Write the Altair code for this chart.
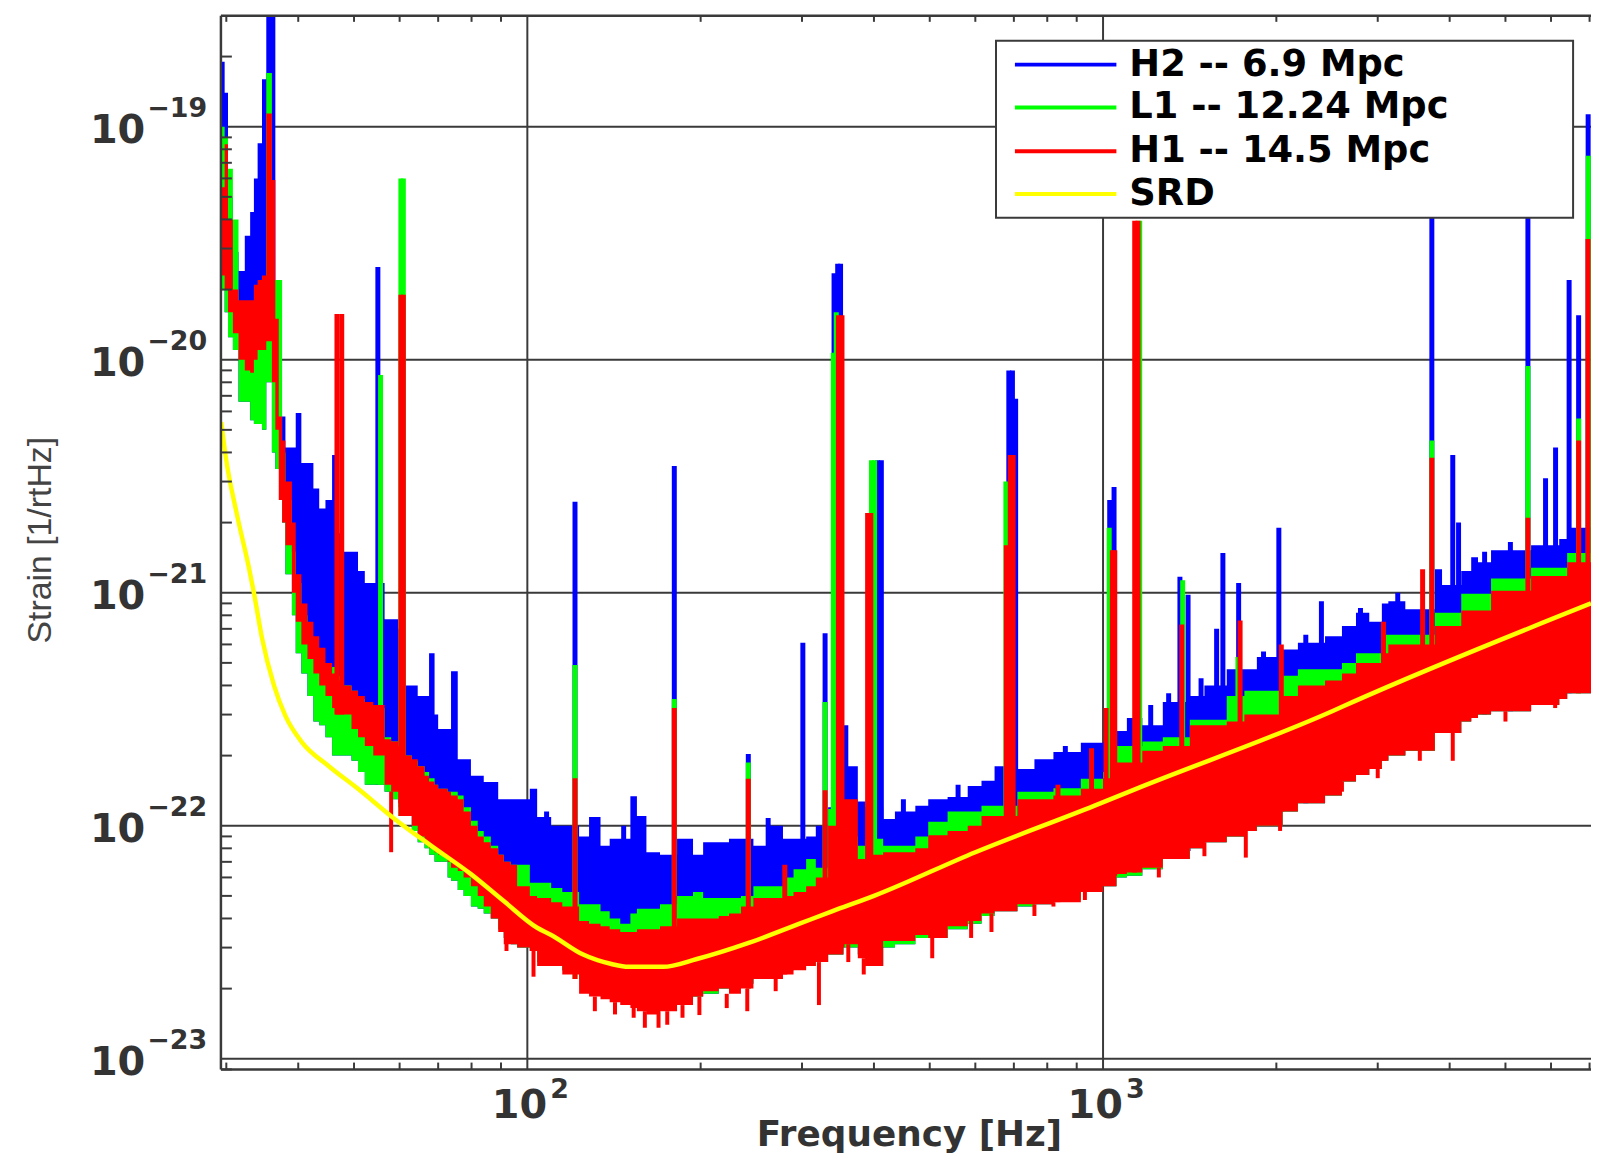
import altair as alt
import pandas as pd

# ---------------- data ----------------
FREQ = [29.36, 29.8, 30.2, 30.8, 31.5, 32.3, 33.0, 33.5, 34.0, 34.6, 35.2, 36.0, 36.5, 37.0, 37.5, 38.0,
        39.0, 39.6, 40.5, 41.5, 42.5, 43.5, 44.6, 45.8, 46.4, 48.0, 49.5, 50.8, 52.2, 54.0, 56.5, 58.0,
        59.7, 61.2, 63.0, 64.5, 66.3, 67.5, 69.0, 70.0, 72.7, 73.7, 75.7, 77.5, 79.8, 82.0, 84.0, 86.4,
        89.0, 91.0, 93.6, 96.0, 101.0, 104.0, 110.0, 115.0, 123.0, 128.0, 134.0, 139.0, 145.0, 151.0,
        155.0, 161.0, 170.0, 182.0, 194.0, 202.0, 215.0, 224.0, 235.0, 247.0, 263.0, 278.0, 290.0, 305.0,
        317.0, 333.0, 354.0, 361.0, 375.0, 387.0, 415.0, 435.0, 472.0, 497.0, 537.0, 582.0, 615.0, 648.0,
        710.0, 760.0, 820.0, 915.0, 1000.0, 1055.0, 1100.0, 1170.0, 1270.0, 1415.0, 1500.0, 1640.0,
        1760.0, 1850.0, 2050.0, 2180.0, 2430.0, 2600.0, 2750.0, 2900.0, 3050.0, 3130.0, 3350.0, 3770.0,
        3880.0, 4190.0, 4360.0, 4480.0, 4720.0, 5540.0, 6200.0, 6400.0, 7040.0]
H2_HI = [1.9e-19, 1.4e-19, 5.0e-20, 2.9e-20, 2.4e-20, 3.4e-20, 4.3e-20, 6.0e-20, 8.5e-20, 1.6e-19, 3.5e-19, 3.5e-19,
         6.0e-21, 5.7e-21, 5.7e-21, 4.2e-21, 4.2e-21, 5.9e-21, 3.6e-21, 3.6e-21, 2.8e-21, 2.3e-21, 2.5e-21, 3.9e-21,
         1.8e-21, 1.5e-21, 1.5e-21, 1.24e-21, 1.1e-21, 1.1e-21, 7.7e-22, 7.7e-22, 7.0e-22, 4.0e-22, 4.0e-22, 3.6e-22,
         3.6e-22, 5.5e-22, 3.0e-22, 2.6e-22, 2.6e-22, 4.6e-22, 1.93e-22, 1.93e-22, 1.64e-22, 1.64e-22, 1.54e-22, 1.54e-22,
         1.3e-22, 1.3e-22, 1.3e-22, 1.3e-22, 1.44e-22, 1.09e-22, 1.0e-22, 1.0e-22, 9.0e-23, 1.09e-22, 8.2e-23, 8.8e-23,
         8.8e-23, 1.34e-22, 1.1e-22, 7.7e-23, 7.5e-23, 8.8e-23, 7.5e-23, 8.5e-23, 8.5e-23, 8.8e-23, 8.8e-23, 8.2e-23,
         1.0e-22, 8.8e-23, 8.8e-23, 9.0e-23, 1.0e-22, 1.2e-22, 2.7e-22, 1.8e-22, 1.27e-22, 1.2e-22, 1.07e-22, 1.15e-22,
         1.22e-22, 1.3e-22, 1.33e-22, 1.48e-22, 1.56e-22, 1.8e-22, 1.75e-22, 1.93e-22, 2.07e-22, 2.27e-22, 2.3e-22,
         2.55e-22, 2.9e-22, 2.7e-22, 3.4e-22, 3.6e-22, 4.0e-22, 4.7e-22, 4.7e-22, 5.3e-22, 5.7e-22, 6.1e-22, 6.5e-22,
         7.2e-22, 8.2e-22, 7.5e-22, 9.0e-22, 9.2e-22, 8.5e-22, 1.26e-21, 1.08e-21, 1.24e-21, 1.42e-21, 1.35e-21,
         1.52e-21, 1.6e-21, 1.7e-21, 1.9e-21, 2.0e-21]
L1_HI = [1.0e-19, 9.0e-20, 6.6e-20, 4.0e-20, 1.6e-20, 1.4e-20, 1.2e-20, 1.2e-20, 1.5e-20, 1.9e-20, 1.7e-19, 2.2e-20,
         2.2e-20, 2.2e-20, 4.0e-21, 2.5e-21, 1.5e-21, 1.1e-21, 8.0e-22, 6.5e-22, 5.8e-22, 5.0e-22, 4.8e-22, 4.8e-22,
         4.4e-22, 4.0e-22, 3.8e-22, 3.5e-22, 3.3e-22, 3.2e-22, 2.4e-22, 2.3e-22, 2.2e-22, 2.0e-22, 1.9e-22, 1.8e-22,
         1.7e-22, 1.6e-22, 1.5e-22, 1.44e-22, 1.4e-22, 1.4e-22, 1.35e-22, 1.2e-22, 1.05e-22, 9.5e-23, 9.0e-23, 8.2e-23,
         7.5e-23, 7.0e-23, 6.8e-23, 6.8e-23, 5.7e-23, 5.7e-23, 5.4e-23, 5.2e-23, 4.6e-23, 4.6e-23, 4.3e-23, 4.0e-23,
         3.8e-23, 4.2e-23, 4.4e-23, 4.4e-23, 4.6e-23, 5.0e-23, 5.2e-23, 4.9e-23, 4.9e-23, 4.9e-23, 5.0e-23, 5.5e-23,
         5.5e-23, 6.0e-23, 6.5e-23, 7.2e-23, 6.6e-23, 1.18e-22, 1.1e-22, 9.0e-23, 8.2e-23, 8.8e-23, 8.2e-23, 8.2e-23,
         9.0e-23, 1.04e-22, 1.15e-22, 1.15e-22, 1.22e-22, 1.22e-22, 1.4e-22, 1.4e-22, 1.45e-22, 1.59e-22, 1.7e-22,
         2.2e-22, 2.2e-22, 2.3e-22, 2.4e-22, 2.85e-22, 2.85e-22, 3.6e-22, 3.8e-22, 3.8e-22, 4.4e-22, 4.7e-22, 4.7e-22,
         5.0e-22, 5.5e-22, 5.5e-22, 6.6e-22, 6.6e-22, 6.6e-22, 8.2e-22, 8.2e-22, 9.9e-22, 9.9e-22, 9.9e-22,
         1.15e-21, 1.28e-21, 1.28e-21, 1.48e-21, 1.48e-21]
L1_LO = [2.0e-20, 1.6e-20, 1.25e-20, 1.1e-20, 6.6e-21, 6.6e-21, 5.5e-21, 5.3e-21, 5.3e-21, 5.0e-21, 8.0e-21, 4.0e-21,
         3.4e-21, 3.4e-21, 2.0e-21, 1.2e-21, 8.0e-22, 5.5e-22, 4.5e-22, 3.6e-22, 2.8e-22, 2.7e-22, 2.4e-22, 2.0e-22,
         2.0e-22, 2.0e-22, 1.9e-22, 1.7e-22, 1.5e-22, 1.5e-22, 1.4e-22, 1.3e-22, 1.2e-22, 1.1e-22, 9.5e-23, 8.5e-23,
         8.0e-23, 7.5e-23, 7.0e-23, 7.0e-23, 6.0e-23, 5.8e-23, 5.3e-23, 5.0e-23, 4.5e-23, 4.4e-23, 4.2e-23, 4.0e-23,
         3.6e-23, 3.3e-23, 3.1e-23, 3.0e-23, 2.9e-23, 2.6e-23, 2.5e-23, 2.4e-23, 2.2e-23, 2.1e-23, 2.0e-23, 1.9e-23,
         1.8e-23, 1.8e-23, 1.8e-23, 1.7e-23, 1.7e-23, 1.8e-23, 1.85e-23, 1.9e-23, 2.0e-23, 2.0e-23, 2.1e-23, 2.2e-23,
         2.3e-23, 2.4e-23, 2.5e-23, 2.5e-23, 2.6e-23, 2.8e-23, 3.0e-23, 3.0e-23, 2.8e-23, 2.5e-23, 3.0e-23, 3.1e-23,
         3.3e-23, 3.3e-23, 3.6e-23, 3.8e-23, 4.1e-23, 4.3e-23, 4.5e-23, 4.6e-23, 4.8e-23, 5.2e-23, 5.5e-23,
         6.0e-23, 6.1e-23, 6.5e-23, 7.2e-23, 8.0e-23, 8.5e-23, 9.0e-23, 9.5e-23, 1.0e-22, 1.15e-22, 1.25e-22, 1.35e-22,
         1.55e-22, 1.65e-22, 1.75e-22, 1.9e-22, 2.0e-22, 2.1e-22, 2.5e-22, 2.5e-22, 2.8e-22, 2.9e-22, 3.0e-22,
         3.1e-22, 3.3e-22, 3.5e-22, 3.7e-22, 4.0e-22]
H1_HI = [5.5e-20, 8.4e-20, 4.0e-20, 2.0e-20, 1.8e-20, 1.8e-20, 1.8e-20, 2.1e-20, 2.2e-20, 2.3e-20, 1.14e-19, 5.9e-20,
         1.5e-20, 5.7e-21, 4.5e-21, 3.0e-21, 2.0e-21, 1.2e-21, 9.0e-22, 7.5e-22, 6.5e-22, 5.8e-22, 5.0e-22, 4.5e-22,
         4.2e-22, 4.0e-22, 3.8e-22, 3.6e-22, 3.4e-22, 3.3e-22, 2.35e-22, 2.3e-22, 2.2e-22, 2.0e-22, 1.93e-22, 1.8e-22,
         1.64e-22, 1.55e-22, 1.5e-22, 1.44e-22, 1.4e-22, 1.35e-22, 1.3e-22, 1.15e-22, 1.0e-22, 9.0e-23, 8.5e-23, 8.0e-23,
         7.5e-23, 7.0e-23, 6.8e-23, 5.5e-23, 5.0e-23, 4.9e-23, 4.7e-23, 4.5e-23, 3.9e-23, 3.8e-23, 3.7e-23, 3.6e-23,
         3.5e-23, 3.5e-23, 3.6e-23, 3.6e-23, 3.7e-23, 4.0e-23, 4.0e-23, 4.0e-23, 4.1e-23, 4.2e-23, 4.5e-23, 4.9e-23,
         4.9e-23, 5.0e-23, 5.2e-23, 5.5e-23, 6.0e-23, 1.0e-22, 1.3e-22, 1.3e-22, 7.2e-23, 7.5e-23, 7.7e-23, 7.7e-23,
         8.0e-23, 9.1e-23, 9.5e-23, 1.0e-22, 1.1e-22, 1.1e-22, 1.3e-22, 1.3e-22, 1.35e-22, 1.44e-22, 1.6e-22,
         1.87e-22, 1.87e-22, 2.1e-22, 2.2e-22, 2.7e-22, 2.7e-22, 2.8e-22, 3.0e-22, 3.0e-22, 3.6e-22, 4.0e-22, 4.2e-22,
         4.5e-22, 5.0e-22, 5.0e-22, 5.5e-22, 6.0e-22, 6.0e-22, 7.2e-22, 7.2e-22, 8.4e-22, 8.4e-22, 8.4e-22,
         1.02e-21, 1.18e-21, 1.18e-21, 1.35e-21, 1.35e-21]
H1_LO = [2.3e-20, 2.0e-20, 1.6e-20, 1.3e-20, 1.0e-20, 9.0e-21, 8.8e-21, 1.0e-20, 1.1e-20, 1.1e-20, 1.2e-20, 8.0e-21,
         5.0e-21, 2.5e-21, 2.0e-21, 1.6e-21, 1.0e-21, 7.5e-22, 6.0e-22, 5.2e-22, 4.5e-22, 4.0e-22, 3.6e-22, 3.2e-22,
         3.0e-22, 3.0e-22, 2.6e-22, 2.4e-22, 2.2e-22, 2.0e-22, 1.5e-22, 1.4e-22, 1.25e-22, 1.1e-22, 1.0e-22, 9.0e-23,
         8.5e-23, 8.0e-23, 7.7e-23, 7.5e-23, 7.0e-23, 6.6e-23, 6.4e-23, 6.0e-23, 5.5e-23, 5.0e-23, 4.5e-23, 4.0e-23,
         3.5e-23, 3.1e-23, 3.1e-23, 3.0e-23, 2.9e-23, 2.5e-23, 2.5e-23, 2.3e-23, 1.9e-23, 1.85e-23, 1.8e-23, 1.75e-23,
         1.7e-23, 1.65e-23, 1.6e-23, 1.55e-23, 1.6e-23, 1.7e-23, 1.85e-23, 1.95e-23, 2.0e-23, 1.9e-23, 2.0e-23, 2.2e-23,
         2.2e-23, 2.3e-23, 2.4e-23, 2.5e-23, 2.6e-23, 2.8e-23, 3.1e-23, 3.1e-23, 2.7e-23, 2.5e-23, 3.2e-23, 3.2e-23,
         3.4e-23, 3.3e-23, 3.7e-23, 3.9e-23, 4.2e-23, 4.3e-23, 4.6e-23, 4.6e-23, 4.7e-23, 5.2e-23, 5.5e-23,
         6.2e-23, 6.3e-23, 6.6e-23, 7.2e-23, 8.0e-23, 8.5e-23, 9.0e-23, 9.5e-23, 1.0e-22, 1.15e-22, 1.25e-22, 1.35e-22,
         1.55e-22, 1.65e-22, 1.75e-22, 1.9e-22, 2.0e-22, 2.1e-22, 2.5e-22, 2.5e-22, 2.8e-22, 2.9e-22, 3.0e-22,
         3.1e-22, 3.3e-22, 3.5e-22, 3.7e-22, 4.0e-22]

# narrow lines sticking out of the noise
H2_SPIKE_F = [55.0, 121.0, 180.0, 242.0, 301.0, 329.0, 341.0, 346.0, 350.0, 406.0, 412.0, 686.0, 696.0, 705.0,
              1027.0, 1045.0, 1360.0, 1405.0, 1575.0, 1615.0, 1720.0, 2020.0, 2395.0, 3725.0, 4050.0, 4145.0,
              5470.0, 5870.0, 6110.0, 6450.0, 6700.0, 6960.0,
              108.0, 147.0, 262.0, 450.0, 560.0, 860.0, 1210.0, 1300.0, 1480.0, 1900.0, 2250.0, 2800.0, 3250.0,
              4600.0, 5100.0]
H2_SPIKE_TOP = [2.5e-20, 2.46e-21, 3.5e-21, 2.03e-22, 6.1e-22, 6.7e-22, 2.35e-20, 2.58e-20, 2.58e-20, 3.7e-21, 3.7e-21,
                9.0e-21, 9.0e-21, 6.8e-21, 2.5e-21, 2.84e-21, 1.17e-21, 9.8e-22, 7.0e-22, 1.48e-21, 1.1e-21, 1.9e-21,
                9.2e-22, 5.0e-20, 3.9e-21, 2.0e-21, 5.0e-20, 3.1e-21, 4.2e-21, 2.2e-20, 1.55e-20, 1.13e-19,
                1.15e-22, 1.0e-22, 1.08e-22, 1.3e-22, 1.5e-22, 2.2e-22, 3.3e-22, 3.7e-22, 4.3e-22, 5.6e-22, 6.6e-22,
                8.6e-22, 1.0e-21, 1.5e-21, 1.65e-21]
H2_SPIKE_BASE = [1.5e-22, 2.4e-23, 1.8e-23, 2.1e-23, 2.5e-23, 2.7e-23, 2.9e-23, 2.9e-23, 2.9e-23, 3.0e-23, 3.0e-23,
                 4.4e-23, 4.4e-23, 4.5e-23, 5.8e-23, 6.0e-23, 7.7e-23, 7.8e-23, 9.0e-23, 9.0e-23, 9.5e-23, 1.15e-22,
                 1.35e-22, 2.5e-22, 2.6e-22, 2.7e-22, 3.3e-22, 3.4e-22, 3.5e-22, 3.7e-22, 3.8e-22, 4.0e-22,
                 2.5e-23, 1.8e-23, 2.3e-23, 3.2e-23, 3.8e-23, 5.0e-23, 7.0e-23, 7.2e-23, 8.5e-23, 1.0e-22, 1.25e-22,
                 1.65e-22, 2.1e-22, 3.0e-22, 3.1e-22]
L1_SPIKE_F = [55.6, 60.3, 60.9, 121.0, 180.0, 242.0, 329.0, 340.0, 344.0, 396.0, 401.0, 678.0, 1025.0, 1158.0,
              1375.0, 1715.0, 3725.0, 5470.0, 6700.0, 6965.0]
L1_SPIKE_TOP = [8.6e-21, 6.0e-20, 6.0e-20, 4.9e-22, 3.5e-22, 1.87e-22, 3.4e-22, 1.07e-20, 1.6e-20, 3.7e-21, 3.7e-21,
                3.0e-21, 1.9e-21, 3.95e-20, 1.13e-21, 5.3e-22, 4.5e-21, 9.4e-21, 5.6e-21, 7.5e-20]
L1_SPIKE_BASE = [1.5e-22, 1.1e-22, 1.1e-22, 2.2e-23, 1.7e-23, 2.0e-23, 2.7e-23, 2.9e-23, 2.9e-23, 2.6e-23, 2.6e-23,
                 4.4e-23, 5.8e-23, 6.5e-23, 7.8e-23, 9.5e-23, 2.5e-22, 3.3e-22, 3.7e-22, 4.0e-22]
H1_SPIKE_F = [46.7, 47.6, 60.3, 60.9, 121.0, 180.0, 242.0, 280.0, 329.0, 347.0, 352.0, 390.0, 395.0, 679.0, 690.0,
              698.0, 1012.0, 1038.0, 1048.0, 1135.0, 1150.0, 1370.0, 1730.0, 2040.0, 3070.0, 3590.0, 3725.0,
              5470.0, 6700.0, 6955.0, 835.0, 955.0]
H1_SPIKE_TOP = [1.57e-20, 1.57e-20, 1.9e-20, 1.9e-20, 1.6e-22, 3.2e-22, 1.59e-22, 6.8e-23, 1.42e-22, 1.55e-20, 1.55e-20,
                2.2e-21, 2.2e-21, 1.6e-21, 3.9e-21, 3.9e-21, 3.2e-22, 1.52e-21, 1.52e-21, 3.95e-20, 3.95e-20, 7.3e-22,
                7.6e-22, 6.0e-22, 7.5e-22, 1.26e-21, 3.8e-21, 2.1e-21, 4.5e-21, 3.3e-20, 1.5e-22, 2.15e-22]
H1_SPIKE_BASE = [3.0e-22, 3.0e-22, 1.1e-22, 1.1e-22, 2.2e-23, 1.7e-23, 2.0e-23, 2.3e-23, 2.7e-23, 3.0e-23, 3.0e-23,
                 2.5e-23, 2.5e-23, 4.4e-23, 4.5e-23, 4.5e-23, 5.6e-23, 6.0e-23, 6.1e-23, 6.3e-23, 6.4e-23, 7.8e-23,
                 9.5e-23, 1.15e-22, 1.9e-22, 2.3e-22, 2.5e-22, 3.3e-22, 3.7e-22, 4.0e-22, 4.7e-23, 5.2e-23]
# downward dips of the H1 trace
H1_DIP_F = [58.0, 92.0, 102.5, 153.0, 160.0, 169.0, 175.0, 199.0, 241.0, 321.0, 505.0, 820.0, 1770.0, 2030.0,
            3550.0, 4050.0, 361.0, 384.0, 590.0, 640.0, 760.0, 930.0, 1250.0, 1500.0, 2600.0, 3000.0, 5000.0,
            6100.0, 131.0, 142.0, 186.0, 222.0, 270.0]
H1_DIP_LOW = [7.7e-23, 2.9e-23, 2.25e-23, 1.5e-23, 1.36e-23, 1.36e-23, 1.4e-23, 1.54e-23, 1.6e-23, 1.7e-23, 2.7e-23,
              4.5e-23, 7.3e-23, 9.5e-23, 1.9e-22, 1.9e-22, 2.6e-23, 2.3e-23, 3.3e-23, 3.5e-23, 4.1e-23, 4.8e-23,
              6.0e-23, 7.4e-23, 1.4e-22, 1.6e-22, 2.8e-22, 3.2e-22, 1.6e-23, 1.55e-23, 1.5e-23, 1.65e-23, 1.95e-23]
H1_DIP_TOP = [1.4e-22, 3.5e-23, 2.9e-23, 1.7e-23, 1.6e-23, 1.6e-23, 1.6e-23, 1.85e-23, 2.0e-23, 2.6e-23, 3.3e-23,
              4.7e-23, 9.5e-23, 1.15e-22, 2.5e-22, 2.5e-22, 3.1e-23, 2.7e-23, 3.9e-23, 4.2e-23, 4.6e-23, 5.2e-23,
              6.6e-23, 8.5e-23, 1.55e-22, 1.9e-22, 3.1e-22, 3.5e-22, 1.85e-23, 1.75e-23, 1.7e-23, 1.9e-23, 2.2e-23]

SRD_F = [29.4, 29.9, 31.3, 32.8, 33.5, 34.6, 36.3, 38.0, 40.6, 45.1, 50.8, 58.8, 68.1, 79.8, 91.0, 104.0, 110.0,
         125.0, 140.0, 150.0, 172.0, 197.0, 243.0, 297.0, 339.0, 400.0, 600.0, 967.0, 1133.0, 2500.0, 2718.0, 7040.0]
SRD_H = [5.4e-21, 3.9e-21, 2.17e-21, 1.3e-21, 1.0e-21, 6.4e-22, 4.0e-22, 2.96e-22, 2.28e-22, 1.81e-22, 1.44e-22,
         1.07e-22, 8.2e-23, 6.2e-23, 4.75e-23, 3.65e-23, 3.4e-23, 2.8e-23, 2.55e-23, 2.48e-23, 2.48e-23, 2.68e-23,
         3.15e-23, 3.8e-23, 4.3e-23, 5.0e-23, 7.7e-23, 1.22e-22, 1.43e-22, 3.1e-22, 3.4e-22, 9.0e-22]

GRID_Y = [1e-19, 1e-20, 1e-21, 1e-22, 1e-23]
GRID_X = [100, 1000]
MINOR_X = [30, 40, 50, 60, 70, 80, 90, 200, 300, 400, 500, 600, 700, 800, 900,
           2000, 3000, 4000, 5000, 6000, 7000]
MINOR_Y = [9e-24, 2e-23, 3e-23, 4e-23, 5e-23, 6e-23, 7e-23, 8e-23, 9e-23,
           2e-22, 3e-22, 4e-22, 5e-22, 6e-22, 7e-22, 8e-22, 9e-22,
           2e-21, 3e-21, 4e-21, 5e-21, 6e-21, 7e-21, 8e-21, 9e-21,
           2e-20, 3e-20, 4e-20, 5e-20, 6e-20, 7e-20, 8e-20, 9e-20, 2e-19]
Y_TICKS = [1e-19, 1e-20, 1e-21, 1e-22, 1e-23]
Y_EXP = ["\u221219", "\u221220", "\u221221", "\u221222", "\u221223"]
X_TICKS = [100, 1000]
X_EXP = ["2", "3"]
LEG_LABELS = ["H2 -- 6.9 Mpc", "L1 -- 12.24 Mpc", "H1 -- 14.5 Mpc", "SRD"]
LEG_COLORS = ["#0000ff", "#00ff00", "#ff0000", "#ffff00"]

# ---------------- chart ----------------
W, H = 1377, 1059
GRID = "#3a3a3a"
xs = alt.Scale(type="log", domain=[29.36, 7040], nice=False)
ys = alt.Scale(type="log", domain=[8.99e-24, 2.99e-19], nice=False)
X = lambda f: alt.X(f, type="quantitative", scale=xs, axis=None)
Y = lambda f: alt.Y(f, type="quantitative", scale=ys, axis=None)

band = pd.DataFrame({"f": FREQ, "h2": H2_HI, "l1hi": L1_HI, "l1lo": L1_LO, "h1hi": H1_HI, "h1lo": H1_LO})


def area(hi, lo, color):
    return alt.Chart(band).mark_area(interpolate="step-after", color=color, opacity=1, clip=True).encode(
        x=X("f"), y=Y(hi), y2=alt.Y2(lo))


def rules(F, T, B, color, width=5):
    df = pd.DataFrame({"f": F, "top": T, "base": B})
    return alt.Chart(df).mark_rule(color=color, strokeWidth=width, clip=True).encode(
        x=X("f"), y=Y("top"), y2=alt.Y2("base"))


one = pd.DataFrame({"a": [0]})
layers = []
layers.append(alt.Chart(pd.DataFrame({"v": GRID_Y})).mark_rule(color=GRID, strokeWidth=2).encode(y=Y("v")))
layers.append(alt.Chart(pd.DataFrame({"v": GRID_X})).mark_rule(color=GRID, strokeWidth=2).encode(x=X("v")))

layers.append(area("h2", "l1lo", "#0000ff"))
layers.append(rules(H2_SPIKE_F, H2_SPIKE_TOP, H2_SPIKE_BASE, "#0000ff"))
layers.append(area("l1hi", "l1lo", "#00ff00"))
layers.append(rules(L1_SPIKE_F, L1_SPIKE_TOP, L1_SPIKE_BASE, "#00ff00"))
layers.append(area("h1hi", "h1lo", "#ff0000"))
layers.append(rules(H1_SPIKE_F, H1_SPIKE_TOP, H1_SPIKE_BASE, "#ff0000"))
layers.append(rules(H1_DIP_F, H1_DIP_LOW, H1_DIP_TOP, "#ff0000", 4))
layers.append(alt.Chart(pd.DataFrame({"f": SRD_F, "h": SRD_H})).mark_line(
    color="#ffff00", strokeWidth=4.5, interpolate="monotone", clip=True).encode(x=X("f"), y=Y("h")))

# frame
layers.append(alt.Chart(one).mark_rule(color=GRID, strokeWidth=2.5).encode(
    x=alt.value(0), y=alt.value(0), y2=alt.value(H)))
layers.append(alt.Chart(one).mark_rule(color=GRID, strokeWidth=2.5).encode(
    x=alt.value(0), x2=alt.value(W), y=alt.value(0)))
layers.append(alt.Chart(one).mark_rule(color=GRID, strokeWidth=2.5).encode(
    x=alt.value(0), x2=alt.value(W), y=alt.value(H)))
# minor ticks
mx = pd.DataFrame({"v": MINOR_X})
layers.append(alt.Chart(mx).mark_rule(color=GRID, strokeWidth=2).encode(x=X("v"), y=alt.value(H), y2=alt.value(H - 7)))
layers.append(alt.Chart(mx).mark_rule(color=GRID, strokeWidth=2).encode(x=X("v"), y=alt.value(0), y2=alt.value(6)))
layers.append(alt.Chart(pd.DataFrame({"v": MINOR_Y})).mark_rule(color=GRID, strokeWidth=2).encode(
    y=Y("v"), x=alt.value(0), x2=alt.value(11)))

# tick labels
LBL = dict(font="DejaVu Sans", fontWeight="bold", color="#333333")
yl = pd.DataFrame({"v": Y_TICKS, "e": Y_EXP})
layers.append(alt.Chart(yl).mark_text(text="10", align="right", baseline="alphabetic", dy=16, fontSize=40, **LBL)
              .encode(y=Y("v"), x=alt.value(-76)))
layers.append(alt.Chart(yl).mark_text(align="left", baseline="alphabetic", dy=-10, fontSize=27, **LBL)
              .encode(y=Y("v"), x=alt.value(-74), text="e:N"))
xl = pd.DataFrame({"v": X_TICKS, "e": X_EXP})
layers.append(alt.Chart(xl).mark_text(text="10", align="right", baseline="alphabetic", dx=20, fontSize=40, **LBL)
              .encode(x=X("v"), y=alt.value(1108)))
layers.append(alt.Chart(xl).mark_text(align="left", baseline="alphabetic", dx=23, fontSize=27, **LBL)
              .encode(x=X("v"), y=alt.value(1088), text="e:N"))

# axis titles
layers.append(alt.Chart(pd.DataFrame({"t": ["Frequency [Hz]"]})).mark_text(
    align="center", baseline="alphabetic", fontSize=36, **LBL).encode(
    x=alt.value(692), y=alt.value(1136), text="t:N"))
layers.append(alt.Chart(pd.DataFrame({"t": ["Strain [1/rtHz]"]})).mark_text(
    align="center", baseline="middle", angle=270, fontSize=34, font="Liberation Sans", color="#444444").encode(
    x=alt.value(-181), y=alt.value(527), text="t:N"))

# legend
layers.append(alt.Chart(one).mark_rect(fill="white", stroke=GRID, strokeWidth=2).encode(
    x=alt.value(779), x2=alt.value(1359), y=alt.value(25), y2=alt.value(203)))
ROW_Y = [49, 92, 136, 179]
for lab, col, ry in zip(LEG_LABELS, LEG_COLORS, ROW_Y):
    d = pd.DataFrame({"t": [lab]})
    layers.append(alt.Chart(d).mark_rule(color=col, strokeWidth=4).encode(
        x=alt.value(798), x2=alt.value(900), y=alt.value(ry)))
    layers.append(alt.Chart(d).mark_text(align="left", baseline="middle", font="DejaVu Sans", fontWeight="bold",
                                         fontSize=37, color="black").encode(
        x=alt.value(913), y=alt.value(ry), text="t:N"))

chart = alt.layer(*layers).properties(
    width=W, height=H,
    autosize=alt.AutoSizeParams(type="none"),
    padding={"left": 214, "top": 5, "right": 0, "bottom": 85},
    background="white",
).configure_view(stroke=None)

chart.save("out.html", embed_options={"renderer": "svg", "actions": False})
